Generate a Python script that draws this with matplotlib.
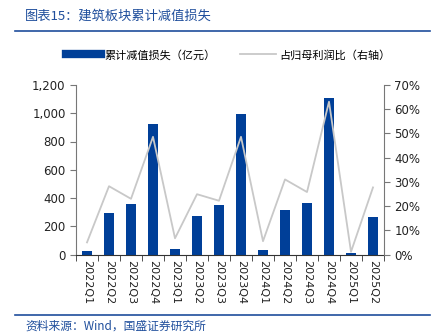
import matplotlib
matplotlib.use("Agg")
import matplotlib.pyplot as plt
from matplotlib.lines import Line2D
from matplotlib.ticker import FuncFormatter, FixedLocator

plt.rcParams['font.family'] = ['Noto Sans CJK SC', 'DejaVu Sans']

quarters = ["2022Q1", "2022Q2", "2022Q3", "2022Q4", "2023Q1", "2023Q2", "2023Q3",
            "2023Q4", "2024Q1", "2024Q2", "2024Q3", "2024Q4", "2025Q1", "2025Q2"]
impairment = [26, 295, 357, 924, 38, 276, 352, 997, 33, 312, 364, 1106, 9, 262]
share_pct = [5.0, 28.2, 23.0, 48.6, 6.7, 24.9, 22.2, 48.6, 5.5, 31.0, 25.8, 63.1, 1.1, 27.7]

left_ticks = [0, 200, 400, 600, 800, 1000, 1200]
right_ticks = [0, 10, 20, 30, 40, 50, 60, 70]

bar_color = "#003F98"
line_color = "#C8C8C8"
title_color = "#1F4E9C"
tick_color = "#222222"

W, H = 441, 336
fig = plt.figure(figsize=(W / 100, H / 100), dpi=100)

left, right, bottom, top = 76, 384, 254.5, 85
ax = fig.add_axes([left / W, 1 - bottom / H, (right - left) / W, (bottom - top) / H])
ax2 = ax.twinx()

x = list(range(len(quarters)))
ax.bar(x, impairment, width=0.45, color=bar_color, zorder=2)
ax2.plot(x, share_pct, color=line_color, lw=1.3, zorder=3)

ax.set_xlim(-0.5, len(quarters) - 0.5)
ax.set_ylim(0, 1200)
ax2.set_ylim(0, 70)
ax.set_yticks(left_ticks)
ax2.set_yticks(right_ticks)
ax.yaxis.set_major_formatter(FuncFormatter(lambda v, p: f"{int(v):,}"))
ax2.yaxis.set_major_formatter(FuncFormatter(lambda v, p: f"{int(v)}%"))

ax.set_xticks(x)
ax.set_xticklabels(quarters, rotation=270, fontsize=8, color=tick_color,
                   family=['DejaVu Sans'])
ax.tick_params(axis='x', length=0, pad=4)
ax.xaxis.set_minor_locator(FixedLocator([i - 0.5 for i in range(len(quarters) + 1)]))
ax.tick_params(axis='x', which='minor', length=4, direction='out', color='#333333')

for a in (ax, ax2):
    a.spines['top'].set_visible(False)
    a.tick_params(axis='y', labelsize=8.5, colors=tick_color, length=4, direction='out')
    for lbl in a.get_yticklabels():
        lbl.set_family(['DejaVu Sans'])
ax.spines['right'].set_visible(False)
ax2.spines['left'].set_visible(False)
ax2.spines['bottom'].set_visible(False)
ax.spines['left'].set_color('#777777')
ax2.spines['right'].set_color('#777777')
ax.spines['bottom'].set_color('#333333')
ax.tick_params(axis='y', color='#777777')
ax2.tick_params(axis='y', color='#777777')

# legend
handles = [
    Line2D([0], [0], color=bar_color, lw=6),
    Line2D([0], [0], color=line_color, lw=1.3),
]
fig.legend(handles, ["累计减值损失（亿元）", "占归母利润比（右轴）"],
           loc='center', bbox_to_anchor=(0.517, 1 - 55 / H), ncol=2, frameon=False,
           fontsize=8, handlelength=3.2, columnspacing=2.2, handletextpad=0.3)

# header and footer
fig.text(25 / W, 1 - 16 / H, "图表15：建筑板块累计减值损失", color=title_color,
         fontsize=9.5, style='italic', va='center', ha='left')
fig.add_artist(Line2D([15 / W, 430 / W], [1 - 31 / H, 1 - 31 / H], color=title_color, lw=1.2))
fig.add_artist(Line2D([15 / W, 430 / W], [1 - 315 / H, 1 - 315 / H], color=title_color, lw=1.2))
fig.text(25 / W, 1 - 326 / H, "资料来源：Wind，国盛证券研究所", color=title_color,
         fontsize=8.5, style='italic', va='center', ha='left')

fig.savefig("out.png", dpi=100)
